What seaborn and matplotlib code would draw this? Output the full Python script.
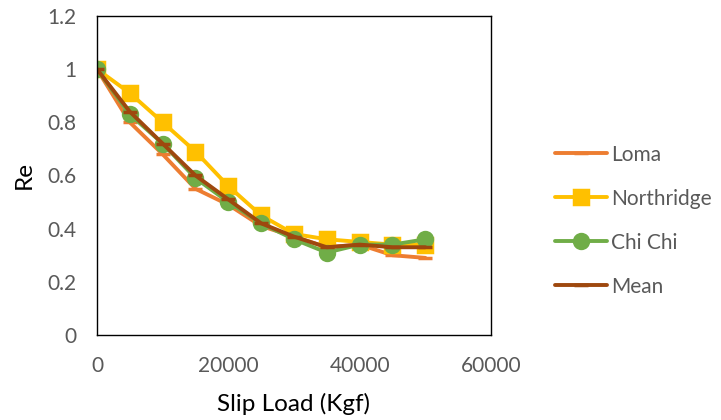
import pandas as pd
import matplotlib.pyplot as plt
import matplotlib.ticker as mticker
import seaborn as sns

sns.set_theme(style="white")
plt.rcParams['font.family'] = ['Lato', 'DejaVu Sans']

# Data
slip_load = [0, 5000, 10000, 15000, 20000, 25000, 30000, 35000, 40000, 45000, 50000]
loma = [1.0, 0.80, 0.68, 0.55, 0.49, 0.41, 0.37, 0.33, 0.34, 0.30, 0.29]
northridge = [1.0, 0.91, 0.80, 0.69, 0.56, 0.45, 0.38, 0.36, 0.35, 0.34, 0.34]
chichi = [1.0, 0.83, 0.72, 0.59, 0.50, 0.42, 0.36, 0.31, 0.34, 0.34, 0.36]
mean = [1.0, 0.84, 0.72, 0.60, 0.51, 0.42, 0.37, 0.33, 0.34, 0.33, 0.33]

series = {"Loma": loma, "Northridge": northridge, "Chi Chi": chichi, "Mean": mean}
colors = {"Loma": "#ED7D31", "Northridge": "#FFC000", "Chi Chi": "#70AD47", "Mean": "#9E480E"}
markers = {"Loma": "_", "Northridge": "s", "Chi Chi": "o", "Mean": "_"}

fig = plt.figure(figsize=(7.21, 4.20), dpi=100)
ax = fig.add_axes([0.1345, 0.2024, 0.5465, 0.7596])

for name, vals in series.items():
    df = pd.DataFrame({"load": slip_load, "re": vals})
    sns.lineplot(data=df, x="load", y="re", ax=ax, color=colors[name],
                 marker=markers[name], markersize=10,
                 markeredgecolor=colors[name], markeredgewidth=2.5,
                 linewidth=2.8, label=name)

ax.set_xlim(0, 60000)
ax.set_ylim(0, 1.2)
ax.set_xticks([0, 20000, 40000, 60000])
ax.set_yticks([0, 0.2, 0.4, 0.6, 0.8, 1.0, 1.2])
ax.yaxis.set_major_formatter(mticker.FuncFormatter(lambda v, p: f"{v:g}"))
ax.tick_params(axis="both", labelsize=15, labelcolor="#595959", length=0)
ax.tick_params(axis="x", pad=15)
ax.tick_params(axis="y", pad=15)

for s in ax.spines.values():
    s.set_color("black")
    s.set_linewidth(1.0)

ax.set_xlabel("Slip Load (Kgf)", fontsize=17.5, color="black", labelpad=12)
ax.set_ylabel("Re", fontsize=17.5, color="black", labelpad=9)

handles, labels = ax.get_legend_handles_labels()
ax.get_legend().remove()
fig.legend(handles, labels, loc="upper left", bbox_to_anchor=(0.744, 0.70),
           frameon=False, fontsize=15, handlelength=2.5, handletextpad=0.2,
           labelspacing=1.15, labelcolor="#595959")

plt.savefig("out.png", dpi=100)
